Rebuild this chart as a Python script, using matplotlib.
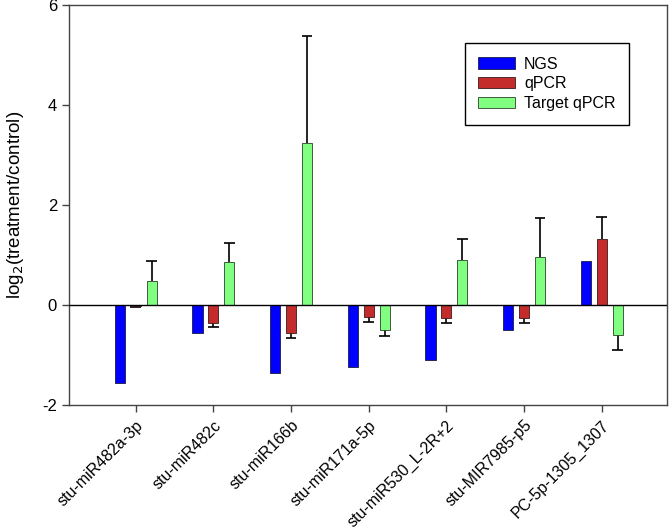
import numpy as np
import matplotlib
matplotlib.use("Agg")
import matplotlib.pyplot as plt

plt.rcParams['font.family'] = ['Liberation Sans', 'DejaVu Sans']
plt.rcParams['axes.unicode_minus'] = False

mirnas = ['stu-miR482a-3p', 'stu-miR482c', 'stu-miR166b', 'stu-miR171a-5p',
          'stu-miR530_L-2R+2', 'stu-MIR7985-p5', 'PC-5p-1305_1307']

ngs = [-1.56, -0.56, -1.35, -1.23, -1.10, -0.50, 0.87]
qpcr = [-0.03, -0.37, -0.55, -0.24, -0.26, -0.26, 1.31]
qpcr_err = [0.02, 0.07, 0.10, 0.11, 0.11, 0.10, 0.44]
target = [0.48, 0.86, 3.24, -0.50, 0.90, 0.96, -0.60]
target_err = [0.40, 0.38, 2.13, 0.12, 0.42, 0.78, 0.30]

x = np.arange(len(mirnas))
w = 0.13
off = 0.205
cap = 0.14

fig = plt.figure(figsize=(6.69, 5.32), dpi=100)
ax = fig.add_axes([0.103, 0.2387, 0.894, 0.752])


# error bar only on the side away from zero (SigmaPlot style)
def err_up(xpos, vals, errs):
    vals = np.array(vals)
    ends = vals + np.sign(vals) * np.array(errs)
    ax.vlines(xpos, vals, ends, color='black', linewidth=1.2, zorder=1)
    ax.hlines(ends, xpos - cap / 2, xpos + cap / 2, color='black', linewidth=1.2, zorder=1)


ax.bar(x - off, ngs, w, color='#0000ff', edgecolor='#1a1a40', linewidth=0.6, label='NGS', zorder=2)
ax.bar(x, qpcr, w, color='#c42b2b', edgecolor='#3a1a1a', linewidth=0.6, label='qPCR', zorder=2)
ax.bar(x + off, target, w, color='#80ff80', edgecolor='#2a402a', linewidth=0.6, label='Target qPCR', zorder=2)
err_up(x, qpcr, qpcr_err)
err_up(x + off, target, target_err)

ax.axhline(0, color='black', linewidth=1, zorder=3)

ax.set_xlim(-0.86, 6.84)
ax.set_ylim(-2, 6)
ax.set_yticks([-2, 0, 2, 4, 6])
ax.set_xticks(x)
ax.set_xticklabels(mirnas, rotation=45, ha='right', va='top', rotation_mode='anchor', fontsize=11.5)
ax.tick_params(axis='y', labelsize=12, direction='out', length=5, width=1, color='#444444')
ax.tick_params(axis='x', direction='out', length=5, width=1, color='#444444', pad=4)
for s in ax.spines.values():
    s.set_linewidth(1)
    s.set_color('#444444')

ax.set_ylabel('log$_2$(treatment/control)', fontsize=13.5)
ax.yaxis.set_label_coords(-0.072, 0.5)

leg = ax.legend(loc='upper left', bbox_to_anchor=(0.662, 0.905), fontsize=11.5,
                fancybox=False, edgecolor='black', framealpha=1,
                handlelength=2.3, handleheight=0.7, handletextpad=0.56,
                borderpad=0.85, labelspacing=0.3, borderaxespad=0)
leg.get_frame().set_linewidth(1)

fig.savefig('out.png', dpi=100)
